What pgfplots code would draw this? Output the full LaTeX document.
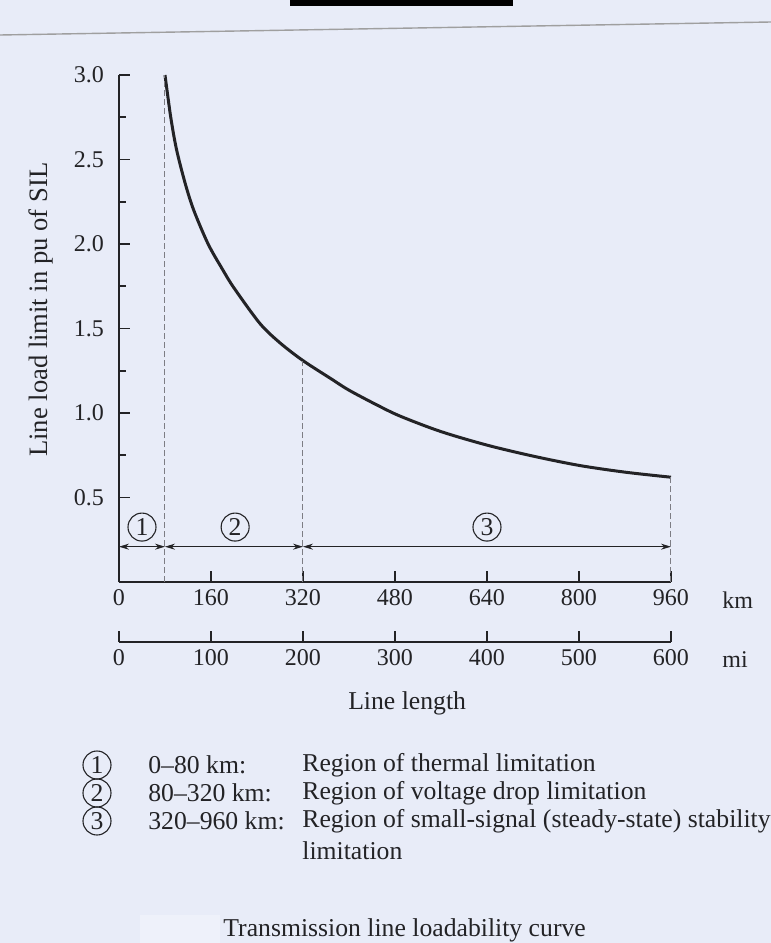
\documentclass[border=0pt]{standalone}
\usepackage{fontspec}
\setmainfont{Liberation Serif}
\usepackage{pgfplots}
\pgfplotsset{compat=1.18}
\usetikzlibrary{arrows.meta}
\definecolor{paper}{RGB}{232,236,248}
\definecolor{ink}{RGB}{35,35,38}
\definecolor{dashg}{RGB}{125,125,132}
\newcommand\txt{\fontsize{12.85}{15}\selectfont}
\tikzset{circnum/.style={draw=ink, circle, inner sep=0pt, minimum size=14pt, line width=0.55pt, font=\txt},
  dimarrow/.style={ink, line width=0.5pt, {Stealth[length=5pt,width=3pt]}-{Stealth[length=5pt,width=3pt]}}}
\begin{document}
\begin{tikzpicture}[font=\fontsize{12}{14}\selectfont, x=1pt, y=1pt, text=ink]
\path[use as bounding box] (-59.5,-180.5) rectangle (326,291);
\fill[paper] (-59.5,-180.5) rectangle (326,291);
\clip (-59.5,-180.5) rectangle (326,291);
% scan artefacts
\draw[gray!75, line width=0.7pt] (-59.5,273.5) -- (326,280);
\fill[black] (85.5,288) rectangle (197,291.5);
\fill[white, opacity=0.3] (10.5,-181) rectangle (50.5,-166.5);

\begin{axis}[
  at={(0pt,0pt)}, anchor=south west,
  scale only axis, width=276pt, height=253.5pt,
  xmin=0, xmax=960, ymin=0, ymax=3,
  axis lines=left,
  axis line style={-, ink, line width=0.9pt},
  tick align=inside,
  major tick length=5.5pt, minor tick length=3.5pt,
  tick style={ink, line width=0.8pt},
  xtick={0,160,320,480,640,800,960},
  ytick={0.5,1.0,1.5,2.0,2.5,3.0},
  minor ytick={0.75,1.25,1.75,2.25,2.75},
  /pgf/number format/assume math mode=true,
  yticklabel style={/pgf/number format/.cd, fixed, fixed zerofill, precision=1, /tikz/.cd, xshift=-4pt},
  clip=false,
  ylabel={Line load limit in pu of SIL},
  every axis y label/.style={at={(rel axis cs:-0.141,0.537)}, rotate=90, anchor=center, font=\fontsize{13.3}{15}\selectfont},
]
\addplot[ink, line width=1.5pt, smooth, tension=0.5] coordinates {
 (80,3.00) (90,2.75) (100,2.56) (115,2.36) (130,2.20) (155,2.00) (180,1.85)
 (200,1.74) (245,1.53) (280,1.415) (320,1.31) (370,1.20) (400,1.135) (450,1.045)
 (490,0.98) (560,0.89) (640,0.81) (720,0.745) (800,0.69) (880,0.65) (960,0.62)
};
\addplot[dashg, line width=0.5pt, dash pattern=on 3pt off 1.5pt] coordinates {(80,0) (80,3.0)};
\addplot[dashg, line width=0.5pt, dash pattern=on 3pt off 1.5pt] coordinates {(320,0) (320,1.31)};
\addplot[dashg, line width=0.5pt, dash pattern=on 3pt off 1.5pt] coordinates {(960,0) (960,0.62)};
\draw[dimarrow] (axis cs:0,0.209) -- (axis cs:80,0.209);
\draw[dimarrow] (axis cs:80,0.209) -- (axis cs:320,0.209);
\draw[dimarrow] (axis cs:320,0.209) -- (axis cs:960,0.209);
\node[circnum] at (axis cs:40,0.325) {1};
\node[circnum] at (axis cs:202,0.325) {2};
\node[circnum] at (axis cs:640,0.325) {3};
\end{axis}

\begin{axis}[
  at={(0pt,-30pt)}, anchor=south west,
  scale only axis, width=276pt, height=10pt,
  xmin=0, xmax=600, ymin=0, ymax=1,
  axis x line=bottom, axis y line=none,
  axis line style={-, ink, line width=0.9pt},
  tick align=inside, major tick length=5.5pt,
  tick style={ink, line width=0.8pt},
  xtick={0,100,200,300,400,500,600}, ytick=\empty,
  /pgf/number format/assume math mode=true,
  xlabel={Line length},
  every axis x label/.style={at={(rel axis cs:0.522,0)}, yshift=-30.5pt, anchor=center, font=\txt},
]
\end{axis}

\node[anchor=west, inner sep=0pt] at (301.5,-9) {km};
\node[anchor=west, inner sep=0pt] at (301.5,-39) {mi};

% explanation list
\node[circnum] at (-11,-91.5) {1};
\node[circnum] at (-11,-105.5) {2};
\node[circnum] at (-11,-119.5) {3};
\begin{scope}[every node/.style={anchor=west, inner sep=0pt, font=\txt}]
\node at (14.5,-91.5) {0--80 km:};
\node at (14.5,-105.5) {80--320 km:};
\node at (14.5,-119.5) {320--960 km:};
\node at (91.5,-91.5) {Region of thermal limitation};
\node at (91.5,-105.5) {Region of voltage drop limitation};
\node at (91.5,-119.5) {Region of small-signal (steady-state) stability};
\node at (91.5,-134.5) {limitation};
\node at (52,-174) {Transmission line loadability curve};
\end{scope}
\end{tikzpicture}
\end{document}
